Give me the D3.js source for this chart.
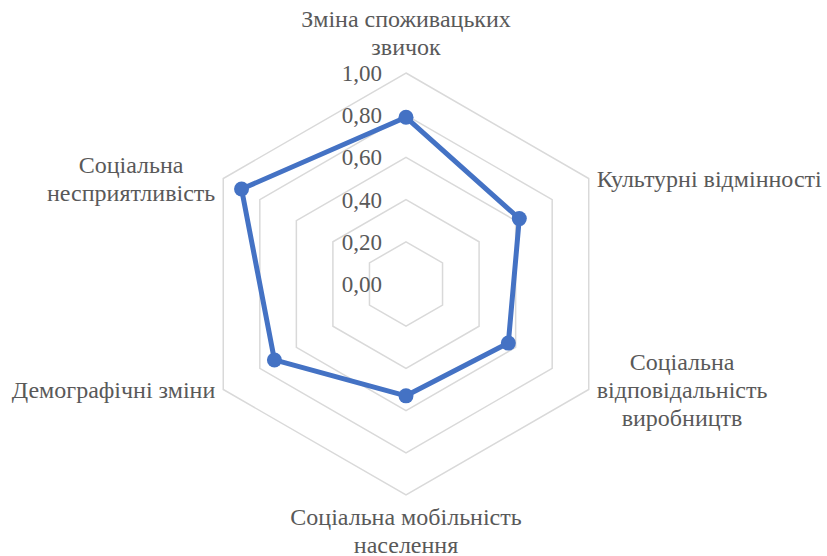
<!DOCTYPE html>
<meta charset="utf-8">
<body style="margin:0">
  <script src="https://d3js.org/d3.v7.min.js"></script>
  <script>
    const width = 827;
    const height = 556;
    const font = "Liberation Serif";

    // categories (clockwise from top), each label split in lines
    const categories = [
      ["Зміна споживацьких", "звичок"],
      ["Культурні відмінності"],
      ["Соціальна", "відповідальність", "виробництв"],
      ["Соціальна мобільність", "населення"],
      ["Демографічні зміни"],
      ["Соціальна", "несприятливість"]
    ];
    const values = [0.79, 0.62, 0.56, 0.53, 0.72, 0.90];
    const ticks = [0, 0.2, 0.4, 0.6, 0.8, 1.0];
    const tickLabels = ["0,00", "0,20", "0,40", "0,60", "0,80", "1,00"];

    const cx = 406, cy = 284, radius = 211;

    const rScale = d3.scaleLinear().domain([0, 1]).range([0, radius]);
    const angle = i => i * 2 * Math.PI / categories.length; // 0 = up, clockwise
    const px = (i, v) => cx + rScale(v) * Math.sin(angle(i));
    const py = (i, v) => cy - rScale(v) * Math.cos(angle(i));

    const svg = d3.select("body")
      .append("svg")
      .attr("width", width)
      .attr("height", height);

    // grid rings
    const ringLine = d3.line();
    svg.append("g")
      .selectAll("path")
      .data(ticks.filter(t => t > 0))
      .enter()
      .append("path")
      .attr("d", t => ringLine(categories.map((c, i) => [px(i, t), py(i, t)])) + "Z")
      .attr("fill", "none")
      .attr("stroke", "#d9d9d9")
      .attr("stroke-width", 1.5);

    // tick labels
    svg.append("g")
      .selectAll("text")
      .data(ticks)
      .enter()
      .append("text")
      .attr("x", cx - 24)
      .attr("y", t => cy - rScale(t))
      .attr("dy", "0.35em")
      .attr("text-anchor", "end")
      .attr("font-family", font)
      .attr("font-size", 23)
      .attr("fill", "#595959")
      .text((t, i) => tickLabels[i]);

    // series
    const pts = values.map((v, i) => [px(i, v), py(i, v)]);
    svg.append("path")
      .attr("d", d3.line()(pts) + "Z")
      .attr("fill", "none")
      .attr("stroke", "#4472c4")
      .attr("stroke-width", 5)
      .attr("stroke-linejoin", "round");

    svg.append("g")
      .selectAll("circle")
      .data(pts)
      .enter()
      .append("circle")
      .attr("cx", d => d[0])
      .attr("cy", d => d[1])
      .attr("r", 7.5)
      .attr("fill", "#4472c4");

    // category labels
    const fs = 24, lh = 28;
    categories.forEach((lines, i) => {
      const vx = px(i, 1), vy = py(i, 1);
      const t = svg.append("text")
        .attr("font-family", font)
        .attr("font-size", fs)
        .attr("fill", "#595959")
        .attr("text-anchor", "middle");
      lines.forEach((l, k) => t.append("tspan").attr("x", 0).attr("y", k * lh).text(l));
      const w = d3.max(t.selectAll("tspan").nodes(), n => n.getComputedTextLength());
      const blockH = lines.length * lh;
      const s = Math.sin(angle(i));
      let x, yTop;
      if (Math.abs(s) < 0.01) {
        x = vx;
        yTop = angle(i) === 0 ? vy - 10 - blockH : vy + 10;
      } else {
        x = s > 0 ? vx + 8 + w / 2 : vx - 8 - w / 2;
        yTop = vy - blockH / 2 + 2;
      }
      t.attr("transform", `translate(${x},${yTop + lh * 0.72})`);
    });
  </script>
</body>
